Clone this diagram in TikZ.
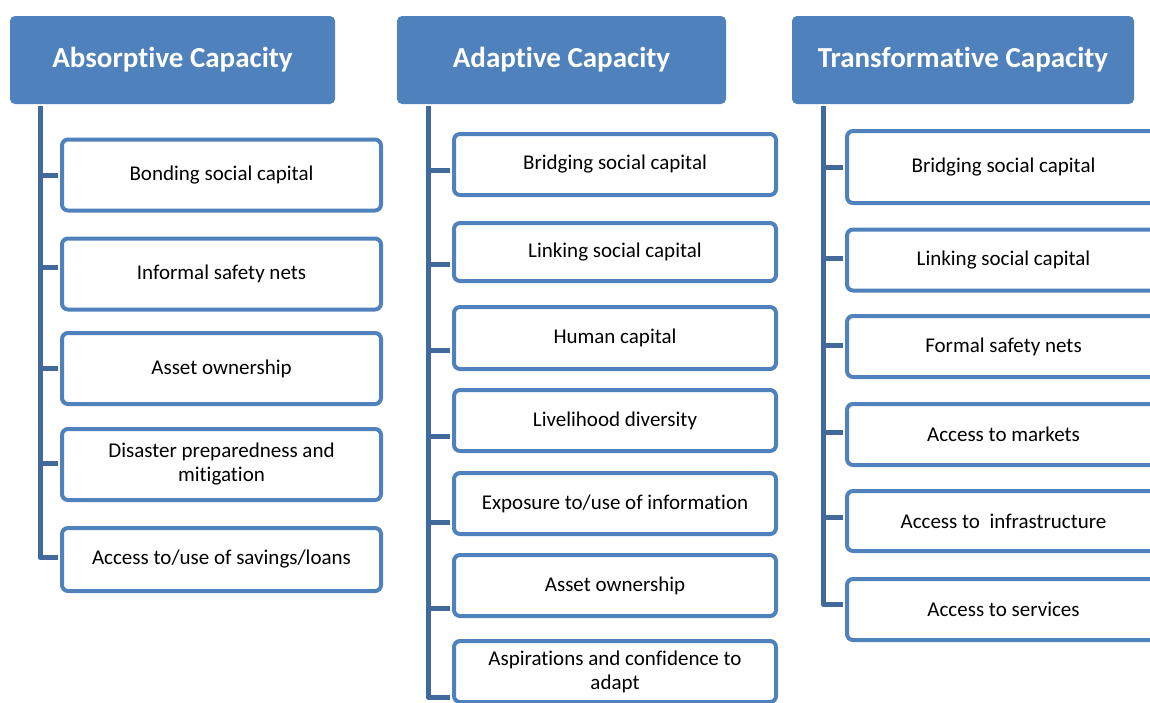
\documentclass[tikz,border=0pt]{standalone}
\usepackage{fontspec}
\setmainfont{Carlito}[RawFeature={-liga;-clig;-dlig;-calt;-hlig}]
\usetikzlibrary{positioning,   % relative placement
                calc}          % shifted points

\definecolor{capblue}{HTML}{4F81BD}
\definecolor{treeblue}{HTML}{41699B}

\tikzset{
  capbox/.style={fill=capblue, rounded corners=5pt, text=white, inner sep=0pt,
              minimum height=88pt, font=\fontsize{29}{34}\selectfont\bfseries},
  item/.style={draw=capblue, fill=white, line width=4pt, rounded corners=6pt,
               inner sep=0pt, align=center, text=black,
               font=\fontsize{21}{24}\selectfont},
  acol/.style={item, minimum width=319pt, minimum height=71pt},
  bcol/.style={item, minimum width=322pt, minimum height=61pt},
  ccol/.style={item, minimum width=313pt, minimum height=61pt},
  spine/.style={draw=treeblue, line width=5pt, line join=round, shorten >=2pt},
  branch/.style={draw=treeblue, line width=5pt, shorten <=2pt},
}

\begin{document}
\begin{tikzpicture}[x=1pt, y=-1pt]
  \useasboundingbox (0,0) rectangle (1150,702);
  \clip (0,0) rectangle (1150,702);

  % the three capacities
  \node[capbox, minimum width=325pt] (absorb) at (172.5,60) {Absorptive Capacity};
  \node[capbox, minimum width=329pt] (adapt) at (561.5,60) {Adaptive Capacity};
  \node[capbox, minimum width=342pt] (transform) at (963,60) {Transformative Capacity};

  \coordinate (s1) at (40,106);
  \coordinate (s2) at (428,106);
  \coordinate (s3) at (823,106);

  % absorptive
  \node[acol] (a1) at (221.5,175) {Bonding social capital};
  \node[acol] (a2) at (221.5,274) {Informal safety nets};
  \node[acol] (a3) at (221.5,368.5) {Asset ownership};
  \node[acol] (a4) at (221.5,464.5) {Disaster preparedness and\\mitigation};
  \node[acol, minimum height=63pt] (a5) at (221.5,559.5) {Access to/use of savings/loans};

  % adaptive
  \node[bcol] (b1) at (615,164.5) {Bridging social capital};
  \node[bcol, minimum height=58pt] (b2) at (615,252) {Linking social capital};
  \node[bcol, minimum height=62pt] (b3) at (615,338) {Human capital};
  \node[bcol] (b4) at (615,420.5) {Livelihood diversity};
  \node[bcol] (b5) at (615,503.5) {Exposure to/use of information};
  \node[bcol] (b6) at (615,585.5) {Asset ownership};
  \node[bcol] (b7) at (615,671.5) {Aspirations and confidence to\\adapt};

  % transformative
  \node[ccol, minimum height=72pt] (c1) at (1003.5,167) {Bridging social capital};
  \node[ccol] (c2) at (1003.5,260) {Linking social capital};
  \node[ccol] (c3) at (1003.5,346.5) {Formal safety nets};
  \node[ccol] (c4) at (1003.5,434.5) {Access to markets};
  \node[ccol, minimum height=60pt] (c5) at (1003.5,521) {Access to~ infrastructure};
  \node[ccol] (c6) at (1003.5,609.5) {Access to services};

  % tree lines
  \draw[spine] (s1) |- ([yshift=2pt]a5.west);
  \draw[branch] (a1.west) -- (a1.west -| s1);
  \draw[branch] ([yshift=7pt]a2.west) coordinate (t) -- (t -| s1);
  \draw[branch] (a3.west) -- (a3.west -| s1);
  \draw[branch] ([yshift=1pt]a4.west) coordinate (t) -- (t -| s1);

  \draw[spine] (s2) |- ([yshift=-25.5pt]b7.west);
  \draw[branch] ([yshift=-5.5pt]b1.west) coordinate (t) -- (t -| s2);
  \draw[branch] ([yshift=-12pt]b2.west) coordinate (t) -- (t -| s2);
  \draw[branch] ([yshift=-12pt]b3.west) coordinate (t) -- (t -| s2);
  \draw[branch] ([yshift=-15.5pt]b4.west) coordinate (t) -- (t -| s2);
  \draw[branch] ([yshift=-18.5pt]b5.west) coordinate (t) -- (t -| s2);
  \draw[branch] ([yshift=-22.5pt]b6.west) coordinate (t) -- (t -| s2);

  \draw[spine] (s3) |- ([yshift=5.5pt]c6.west);
  \draw[branch] (c1.west) -- (c1.west -| s3);
  \draw[branch] ([yshift=2pt]c2.west) coordinate (t) -- (t -| s3);
  \draw[branch] ([yshift=1.5pt]c3.west) coordinate (t) -- (t -| s3);
  \draw[branch] ([yshift=2.5pt]c4.west) coordinate (t) -- (t -| s3);
  \draw[branch] ([yshift=4pt]c5.west) coordinate (t) -- (t -| s3);
\end{tikzpicture}
\end{document}
